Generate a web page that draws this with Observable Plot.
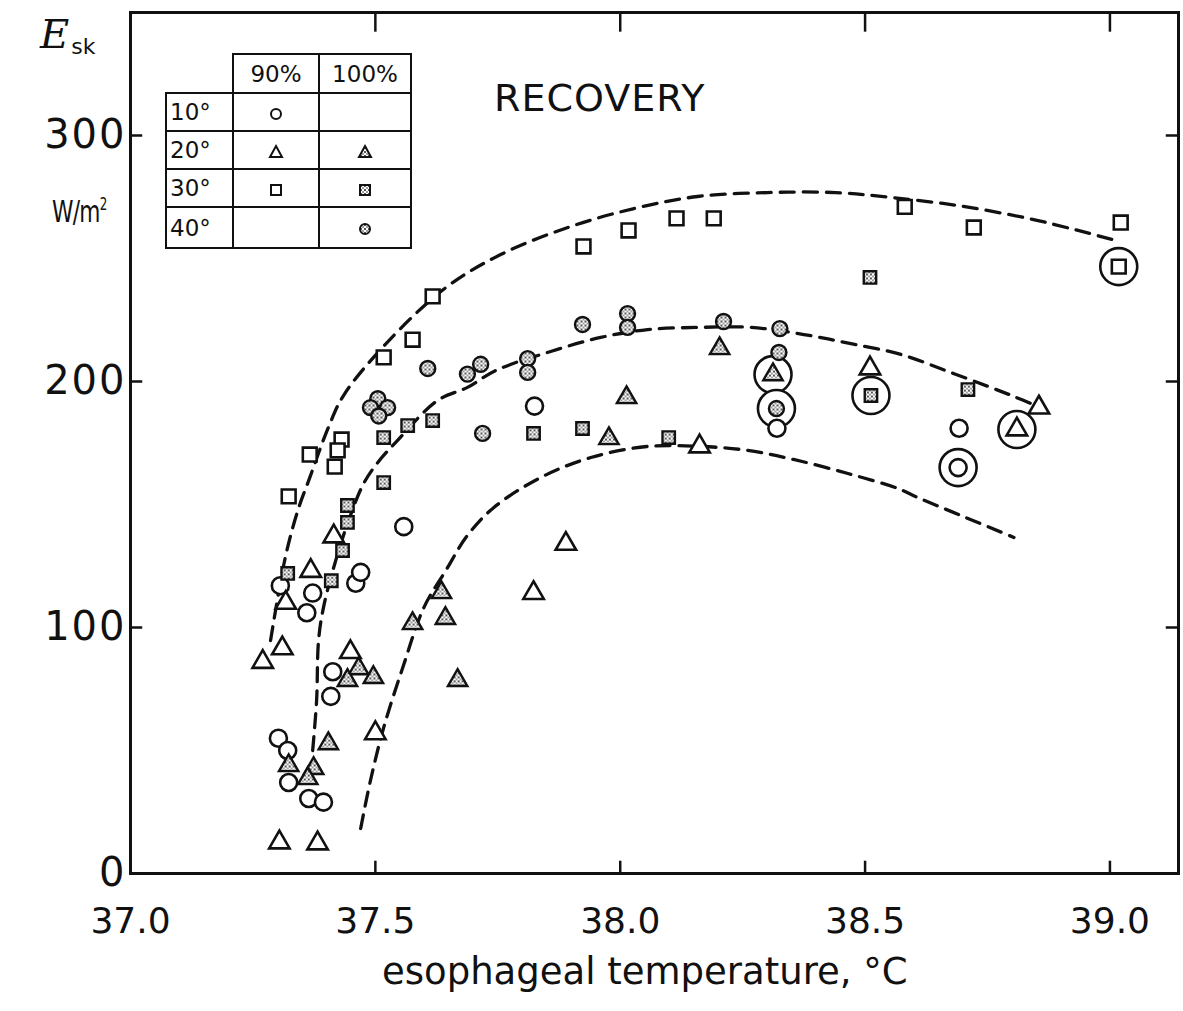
<!DOCTYPE html>
<html><head><meta charset="utf-8">
<script src="https://cdn.jsdelivr.net/npm/d3@7"></script>
<script src="https://cdn.jsdelivr.net/npm/@observablehq/plot@0.6"></script>
<style>
body{margin:0;background:#fff;}
#wrap{position:relative;width:1183px;height:1011px;font-family:"DejaVu Sans",sans-serif;color:#111;overflow:hidden;}
.ov{position:absolute;white-space:nowrap;line-height:1;}
#leg{position:absolute;left:165px;top:53px;border-collapse:collapse;font-family:"DejaVu Sans",sans-serif;font-size:23px;background:#fff;}
#leg td{border:2px solid #111;padding:0;text-align:center;vertical-align:middle;}
#leg td.blank{border:none;background:transparent;}
#leg td.lab{text-align:left;padding-left:3px;}
g[aria-label="y-axis tick label"] text{letter-spacing:2px;}
</style></head><body>
<svg width="0" height="0" style="position:absolute">
  <defs>
    <pattern id="speck" width="4" height="4" patternUnits="userSpaceOnUse">
      <rect width="4" height="4" fill="#fff"/>
      <circle cx="1" cy="1" r="0.95" fill="#111"/>
      <circle cx="3" cy="3" r="0.75" fill="#111"/>
    </pattern>
  </defs>
</svg>
<div id="wrap"></div>
<script>
// ---- axes ----
const xTicks = [37.0, 37.5, 38.0, 38.5, 39.0];
const yTicks = [0, 100, 200, 300];

// ---- 10°, 90% : open circles ----
const circle10_90 = [
  [37.306,117],[37.372,114],[37.36,106],[37.413,82],[37.409,72],[37.302,55],[37.321,50],
  [37.323,37],[37.364,30.5],[37.394,29],[37.558,141],[37.825,190],[38.32,181],[38.692,181],
  [38.69,165],[37.46,118],[37.47,122.4]
];
// ---- 20°, 90% : open triangles ----
const tri20_90 = [
  [37.415,137],[37.368,123],[37.317,110],[37.31,91.5],[37.27,86],[37.449,90],[37.5,57],
  [37.304,12.6],[37.382,12.2],[37.823,114],[37.889,134],[38.162,173.6],[38.51,205.3],
  [38.855,189.4],[38.81,180.5]
];
// ---- 30°, 90% : open squares ----
const sq30_90 = [
  [37.366,170.3],[37.431,176.4],[37.423,172],[37.417,165.4],[37.323,153.3],[37.517,209.8],
  [37.576,217],[37.617,234.6],[37.925,254.9],[38.017,261.4],[38.115,266.3],[38.191,266.3],
  [38.581,271],[38.722,262.6],[39.022,264.6],[39.018,246.7]
];
// ---- 20°, 100% : speckled triangles ----
const tri20_100 = [
  [38.203,213.4],[38.013,193.5],[37.977,176.8],[38.312,202.8],[37.576,101.6],[37.635,114.2],
  [37.643,103.7],[37.668,78.5],[37.466,83.3],[37.496,79.7],[37.443,78.5],[37.404,52.8],
  [37.323,43.9],[37.374,42.7],[37.362,38.6]
];
// ---- 30°, 100% : speckled squares ----
const sq30_100 = [
  [37.566,182.1],[37.617,184.1],[37.823,178.9],[37.923,180.9],[38.099,177.2],[38.51,242.3],
  [38.512,194.3],[38.71,196.7],[37.517,158.9],[37.443,149.6],[37.443,142.7],[37.433,131.3],
  [37.321,122],[37.41,119],[37.517,177.2]
];
// ---- 40°, 100% : speckled circles ----
const circle40_100 = [
  [38.326,221.5],[38.324,211.8],[38.319,189],[38.211,224.4],[38.015,227.6],[38.015,222],
  [37.923,223.2],[37.811,209.3],[37.811,203.7],[37.688,203],[37.715,207],[37.607,205.3],
  [37.719,178.9],[37.505,193],[37.49,189.4],[37.525,189.4],[37.507,186]
];
// ---- large ringed points ----
const rings = [[39.018,246.7],[38.312,202.8],[38.319,189],[38.512,194.3],[38.81,180.5],[38.69,165]];

// ---- dashed curves ----
const curveUpper = [
  [37.286,94.7],[37.317,129.3],[37.343,148.4],[37.364,159.8],[37.404,181.3],[37.435,194.3],
  [37.52,215],[37.644,238.2],[37.756,251.6],[37.893,262.6],[38.028,270.3],[38.158,275.2],
  [38.301,276.8],[38.44,276.8],[38.553,274.8],[38.69,271.5],[38.833,266.3],[38.935,261.4],[39.012,257.3]
];
const curveMiddle = [
  [37.372,50],[37.38,70.3],[37.384,94.7],[37.394,108.1],[37.419,127.2],[37.449,145.5],
  [37.476,158.5],[37.505,167.1],[37.545,176],[37.627,192.3],[37.688,197.6],[37.746,204.5],
  [37.858,212.2],[37.96,217.9],[38.056,221.1],[38.164,222],[38.267,222],[38.375,219.1],
  [38.471,215.4],[38.573,211],[38.669,204.1],[38.751,198],[38.804,193.9],[38.849,190.2]
];
const curveLower = [
  [37.47,18.3],[37.49,37.8],[37.517,59.3],[37.556,83.7],[37.599,108.1],[37.644,123.2],
  [37.688,137.4],[37.742,148.8],[37.838,161],[37.94,169.1],[38.056,173.6],[38.164,173.6],
  [38.26,172],[38.354,168.3],[38.465,162.6],[38.567,156.5],[38.608,152.8],[38.696,145.5],[38.804,136.6]
];

const ink = "#111";
const X = d => d[0], Y = d => d[1];
const dash = {x: X, y: Y, curve: "catmull-rom", stroke: ink, strokeWidth: 3.3, strokeDasharray: "14,9", strokeLinecap: "round"};
const open = {x: X, y: Y, stroke: ink, strokeWidth: 2.6, fill: "#fff"};
const speck = {x: X, y: Y, stroke: ink, strokeWidth: 2.4, fill: "url(#speck)"};

const chart = Plot.plot({
  width: 1183, height: 1011,
  marginLeft: 130, marginRight: 5, marginTop: 12, marginBottom: 138,
  x: {domain: [37.0, 39.14]},
  y: {domain: [0, 350]},
  style: {fontFamily: "DejaVu Sans, sans-serif", fontSize: "36px", color: ink, background: "transparent", overflow: "visible"},
  marks: [
    Plot.frame({stroke: ink, strokeWidth: 3}),
    Plot.axisX(xTicks, {tickSize: 0, tickPadding: 34, tickFormat: d3.format(".1f"), fontSize: 36, label: null}),
    Plot.axisY(yTicks, {tickSize: 0, tickPadding: 4, fontSize: 40, label: null}),
    Plot.ruleX(xTicks.slice(1), {y1: 0, y2: 5, stroke: ink, strokeWidth: 2.5}),
    Plot.ruleX(xTicks.slice(1), {y1: 342, y2: 350, stroke: ink, strokeWidth: 2.5}),
    Plot.ruleY(yTicks.slice(1), {x1: 37.0, x2: 37.025, stroke: ink, strokeWidth: 2.5}),
    Plot.ruleY(yTicks.slice(1), {x1: 39.115, x2: 39.14, stroke: ink, strokeWidth: 2.5}),
    Plot.line(curveUpper, dash),
    Plot.line(curveMiddle, dash),
    Plot.line(curveLower, dash),
    Plot.dot(rings, {x: X, y: Y, r: 18.5, stroke: ink, strokeWidth: 2.6, fill: "#fff"}),
    Plot.dot(circle10_90, {...open, symbol: "circle", r: 8.5}),
    Plot.dot(tri20_90, {...open, symbol: "triangle", r: 7.6}),
    Plot.dot(sq30_90, {...open, symbol: "square", r: 7.8}),
    Plot.dot(tri20_100, {...speck, symbol: "triangle", r: 7.2}),
    Plot.dot(sq30_100, {...speck, symbol: "square", r: 7.0}),
    Plot.dot(circle40_100, {...speck, symbol: "circle", r: 7.5})
  ]
});

const wrap = document.getElementById("wrap");
wrap.appendChild(chart);

function sym(kind, filled) {
  const f = filled ? "url(#speck)" : "#fff";
  let s = "";
  if (kind === "c") s = `<circle cx="9" cy="9" r="5" fill="${f}" stroke="${ink}" stroke-width="2"/>`;
  if (kind === "t") s = `<polygon points="9,3 15,14 3,14" fill="${f}" stroke="${ink}" stroke-width="2"/>`;
  if (kind === "s") s = `<rect x="4" y="4" width="10" height="10" fill="${f}" stroke="${ink}" stroke-width="2"/>`;
  return `<svg width="18" height="18" style="vertical-align:middle">${s}</svg>`;
}
const legendRows = ["10°", "20°", "30°", "40°"];
const legendCols = ["90%", "100%"];
const legendSyms = [["c", null], ["t", "t"], ["s", "s"], [null, "c"]];
let html = `<table id="leg"><colgroup><col style="width:67px"><col style="width:86px"><col style="width:92px"></colgroup>`;
html += `<tr style="height:39px"><td class="blank"></td><td>${legendCols[0]}</td><td>${legendCols[1]}</td></tr>`;
legendRows.forEach((r, i) => {
  const [a, b] = legendSyms[i];
  html += `<tr style="height:${i === 3 ? 41 : 38}px"><td class="lab">${r}</td><td>${a ? sym(a, false) : ""}</td><td>${b ? sym(b, true) : ""}</td></tr>`;
});
html += `</table>`;
wrap.insertAdjacentHTML("beforeend", html);

wrap.insertAdjacentHTML("beforeend", `
<div class="ov" style="left:40px;top:14px;"><span style="font-family:'DejaVu Serif',serif;font-style:italic;font-size:40px;">E</span><span style="font-size:22px;position:relative;top:6px;margin-left:2px;">sk</span></div>
<div class="ov" style="left:52px;top:196px;font-size:31px;transform:scaleX(0.7);transform-origin:left top;letter-spacing:-1px;">W/m<span style="font-size:17px;position:relative;top:-12px;">2</span></div>
<div class="ov" style="left:494px;top:79px;font-size:38px;letter-spacing:1px;">RECOVERY</div>
<div class="ov" style="left:382px;top:953px;font-size:37px;">esophageal temperature, °C</div>
`);
</script>
</body></html>
